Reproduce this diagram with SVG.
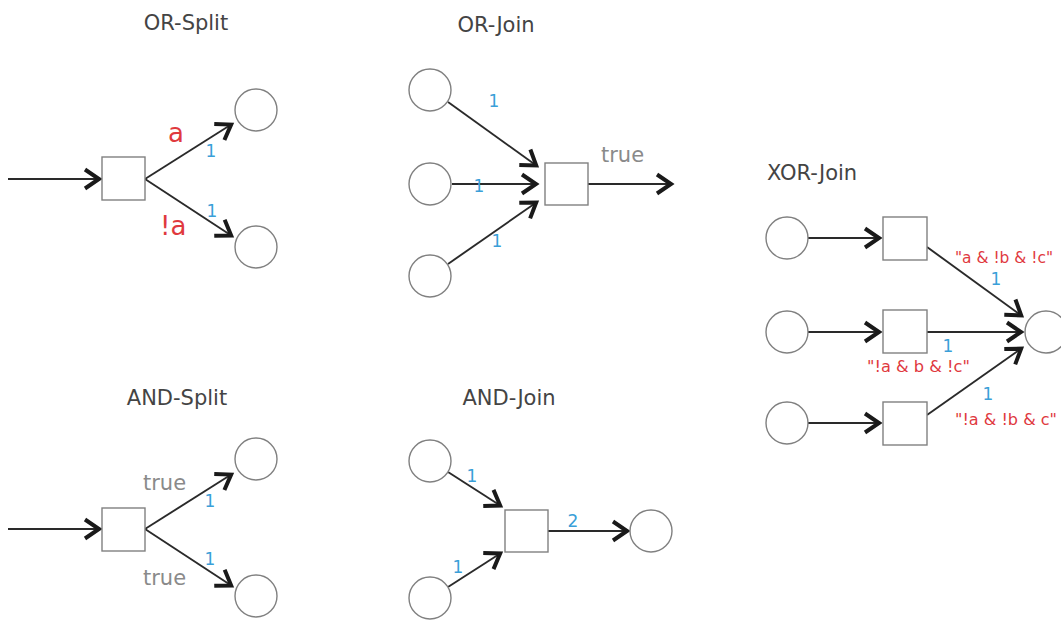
<svg xmlns="http://www.w3.org/2000/svg" width="1061" height="620" viewBox="0 0 1061 620">
<defs>
<marker id="arr" markerUnits="userSpaceOnUse" viewBox="-20 -14 24 28" markerWidth="24" markerHeight="28" refX="1" refY="0" orient="auto">
<path d="M-14,-9.5 L0,0 L-14,9.5" fill="none" stroke="#1a1a1a" stroke-width="4" stroke-linejoin="miter" stroke-linecap="butt"/>
</marker>
</defs>
<style>
.place{fill:#fff;stroke:#808080;stroke-width:1.4}
.trans{fill:#fff;stroke:#808080;stroke-width:1.4}
.arc{stroke:#2a2a2a;stroke-width:1.9;fill:none;marker-end:url(#arr)}
.title{font-family:"DejaVu Sans","Liberation Sans",sans-serif;font-size:21px;fill:#444;text-anchor:middle}
.grey{font-family:"DejaVu Sans","Liberation Sans",sans-serif;font-size:21px;fill:#8a8a8a}
.red{font-family:"DejaVu Sans","Liberation Sans",sans-serif;font-size:26px;fill:#e0393e}
.redsm{font-family:"DejaVu Sans","Liberation Sans",sans-serif;font-size:15px;fill:#e0393e}
.w{font-family:"DejaVu Sans","Liberation Sans",sans-serif;font-size:17px;fill:#3a9fd8;text-anchor:middle}
</style>
<rect width="1061" height="620" fill="#fff"/>

<g id="titles">
<text class="title" x="186" y="30">OR-Split</text>
<text class="title" x="496" y="32">OR-Join</text>
<text class="title" x="812" y="180">XOR-Join</text>
<text class="title" x="177" y="405">AND-Split</text>
<text class="title" x="509" y="405">AND-Join</text>
</g>

<g id="connectors">
<!-- OR-Split -->
<line class="arc" x1="8" y1="179" x2="100" y2="179"/>
<line class="arc" x1="145" y1="179" x2="232" y2="124"/>
<line class="arc" x1="145" y1="179" x2="232" y2="236"/>
<!-- OR-Join -->
<line class="arc" x1="448" y1="102" x2="537" y2="166"/>
<line class="arc" x1="452" y1="184" x2="537" y2="184"/>
<line class="arc" x1="448" y1="264" x2="537" y2="202"/>
<line class="arc" x1="588" y1="184" x2="672" y2="184"/>
<!-- XOR-Join -->
<line class="arc" x1="808" y1="238" x2="880" y2="238"/>
<line class="arc" x1="808" y1="332" x2="880" y2="332"/>
<line class="arc" x1="808" y1="423" x2="880" y2="423"/>
<line class="arc" x1="927" y1="247" x2="1022" y2="316"/>
<line class="arc" x1="927" y1="332" x2="1022" y2="332"/>
<line class="arc" x1="927" y1="415" x2="1022" y2="348"/>
<!-- AND-Split -->
<line class="arc" x1="8" y1="529" x2="100" y2="529"/>
<line class="arc" x1="145" y1="529" x2="232" y2="474"/>
<line class="arc" x1="145" y1="529" x2="232" y2="586"/>
<!-- AND-Join -->
<line class="arc" x1="448" y1="472" x2="501" y2="506"/>
<line class="arc" x1="448" y1="587" x2="501" y2="553"/>
<line class="arc" x1="548" y1="531" x2="628" y2="531"/>
</g>

<g id="or-split">
<rect class="trans" x="102" y="157" width="43" height="43"/>
<circle class="place" cx="256" cy="110" r="21"/>
<circle class="place" cx="256" cy="247" r="21"/>
<text class="red" x="168" y="142">a</text>
<text class="red" x="160" y="235">!a</text>
<text class="w" x="211" y="157">1</text>
<text class="w" x="212" y="217">1</text>
</g>

<g id="or-join">
<circle class="place" cx="430" cy="90" r="21"/>
<circle class="place" cx="430" cy="184" r="21"/>
<circle class="place" cx="430" cy="276" r="21"/>
<rect class="trans" x="545" y="163" width="43" height="42"/>
<text class="grey" x="601" y="162">true</text>
<text class="w" x="494" y="107">1</text>
<text class="w" x="479" y="192">1</text>
<text class="w" x="497" y="247">1</text>
</g>

<g id="xor-join">
<circle class="place" cx="787" cy="238" r="21"/>
<circle class="place" cx="787" cy="332" r="21"/>
<circle class="place" cx="787" cy="423" r="21"/>
<rect class="trans" x="883" y="217" width="44" height="43"/>
<rect class="trans" x="883" y="310" width="44" height="43"/>
<rect class="trans" x="883" y="402" width="44" height="43"/>
<circle class="place" cx="1046" cy="332" r="21"/>
<text class="redsm" x="955" y="263" textLength="98" lengthAdjust="spacingAndGlyphs">"a &amp; !b &amp; !c"</text>
<text class="redsm" x="867" y="372" textLength="103" lengthAdjust="spacingAndGlyphs">"!a &amp; b &amp; !c"</text>
<text class="redsm" x="955" y="425" textLength="102" lengthAdjust="spacingAndGlyphs">"!a &amp; !b &amp; c"</text>
<text class="w" x="996" y="285">1</text>
<text class="w" x="948" y="352">1</text>
<text class="w" x="988" y="400">1</text>
</g>

<g id="and-split">
<rect class="trans" x="102" y="508" width="43" height="43"/>
<circle class="place" cx="256" cy="459" r="21"/>
<circle class="place" cx="256" cy="596" r="21"/>
<text class="grey" x="143" y="490">true</text>
<text class="grey" x="143" y="585">true</text>
<text class="w" x="210" y="507">1</text>
<text class="w" x="210" y="565">1</text>
</g>

<g id="and-join">
<circle class="place" cx="430" cy="461" r="21"/>
<circle class="place" cx="430" cy="598" r="21"/>
<rect class="trans" x="505" y="510" width="43" height="42"/>
<circle class="place" cx="651" cy="531" r="21"/>
<text class="w" x="472" y="482">1</text>
<text class="w" x="458" y="573">1</text>
<text class="w" x="573" y="527">2</text>
</g>
</svg>
